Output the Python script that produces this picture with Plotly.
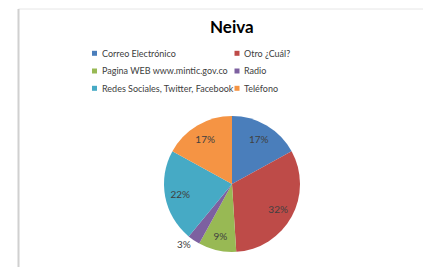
import plotly.graph_objects as go

labels = ["Correo Electrónico", "Otro ¿Cuál?", "Pagina WEB www.mintic.gov.co",
          "Radio", "Redes Sociales, Twitter, Facebook", "Teléfono"]
values = [17, 32, 9, 3, 22, 17]
colors = ["#4A7EBB", "#BE4B48", "#98B954", "#7D60A0", "#46AAC5", "#F59444"]
title_text = "Neiva"

# page body has an 8px margin; work in window pixels and convert
OFF = 8
W, H = 431 - OFF, 267 - OFF
FONT = "Lato"


def px(x):
    return (x - OFF) / W


def py(y):
    return 1 - (y - OFF) / H


textpos = ["outside" if v < 5 else "inside" for v in values]

cx0, cy0, R = 232, 184, 68
dom = dict(x=[px(cx0 - R), px(cx0 + R)], y=[py(cy0 + R), py(cy0 - R)])
fig = go.Figure()
fig.add_trace(go.Pie(
    labels=labels, values=values, sort=False, direction="clockwise", rotation=0,
    marker=dict(colors=colors, line=dict(width=0)),
    textinfo="none", domain=dom, showlegend=False, hoverinfo="label+percent",
))
# transparent ring used only to place the percentage labels further out
fig.add_trace(go.Pie(
    labels=labels, values=values, sort=False, direction="clockwise", rotation=0, hole=0.55,
    marker=dict(colors=["rgba(0,0,0,0)"] * len(values), line=dict(width=0)),
    texttemplate="%{percent:.0%}", textposition=textpos,
    insidetextorientation="horizontal",
    textfont=dict(family=FONT, size=10, color="#404040"),
    domain=dom, showlegend=False, hoverinfo="skip",
))

shapes = [
    dict(type="line", xref="paper", yref="paper", x0=px(18.5), x1=1, y0=py(9), y1=py(9),
         line=dict(color="#E6E6E6", width=1)),
    dict(type="line", xref="paper", yref="paper", x0=px(18.5), x1=px(18.5), y0=0, y1=py(9),
         line=dict(color="#D0D0D0", width=2)),
]
annotations = [dict(text="<b>" + title_text + "</b>", x=px(231.5), y=py(27), xref="paper", yref="paper",
                    showarrow=False, xanchor="center", yanchor="middle",
                    font=dict(family=FONT, size=17, color="#000000"))]

col_x = [92, 234.5]
row_y = [53.3, 71, 88.3]
for i, (lab, col) in enumerate(zip(labels, colors)):
    cx = col_x[i % 2]
    cy = row_y[i // 2]
    shapes.append(dict(type="rect", xref="paper", yref="paper",
                       x0=px(cx), x1=px(cx + 5), y0=py(cy + 2.5), y1=py(cy - 2.5),
                       fillcolor=col, line=dict(width=0)))
    annotations.append(dict(text=lab, x=px(cx + 7.5), y=py(cy), xref="paper", yref="paper",
                            showarrow=False, xanchor="left", yanchor="middle",
                            font=dict(family=FONT, size=9, color="#404040")))

fig.update_layout(width=W, height=H, margin=dict(l=0, r=0, t=0, b=0),
                  paper_bgcolor="white", plot_bgcolor="white",
                  shapes=shapes, annotations=annotations)
fig.write_html("out.html")
